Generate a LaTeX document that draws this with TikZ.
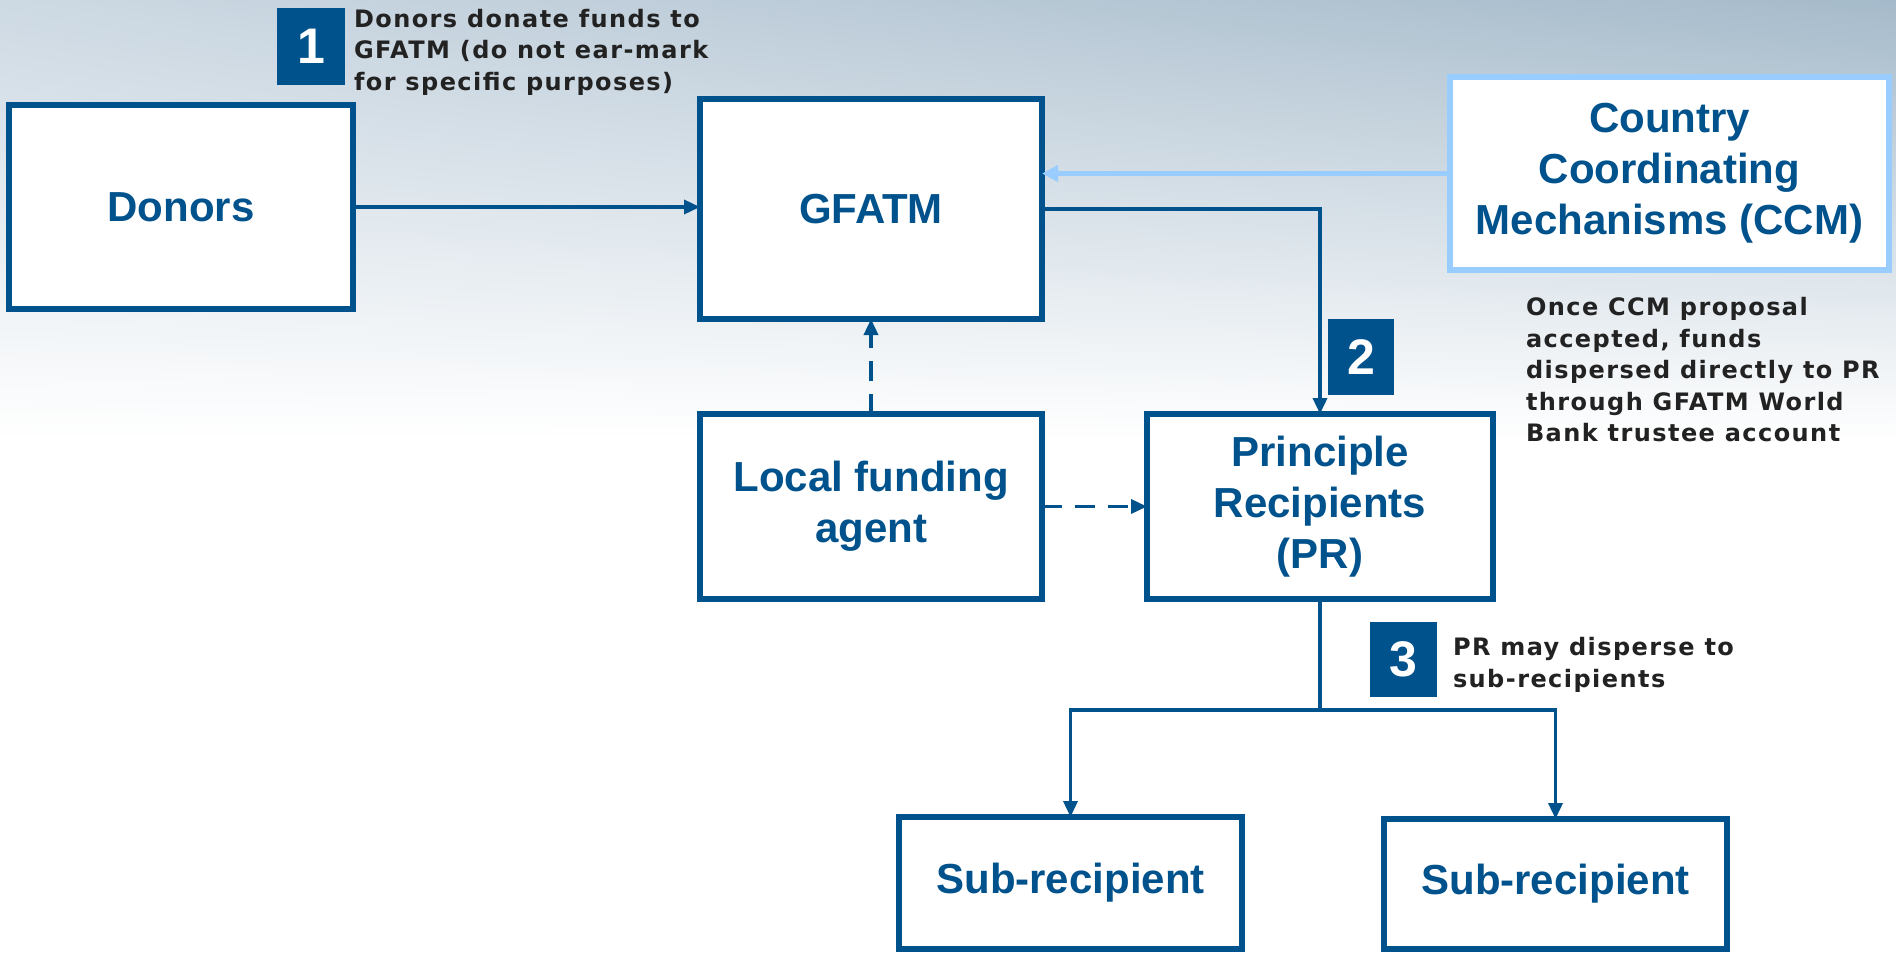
\documentclass[tikz,border=0pt]{standalone}
\usepackage{fontspec}
\setmainfont{Liberation Sans}
\newfontfamily\notefont[LetterSpace=6]{DejaVu Sans}
\usetikzlibrary{arrows.meta,shadings}
\definecolor{dblue}{RGB}{0,82,140}
\definecolor{lblue}{RGB}{153,204,255}
\definecolor{bgul}{RGB}{205,217,227}
\definecolor{bgur}{RGB}{165,186,202}
\definecolor{notegray}{RGB}{34,34,34}
\tikzset{
  box/.style={draw=dblue, line width=6pt, fill=white, inner sep=0pt, outer sep=0pt,
    font=\fontsize{42}{51}\selectfont\bfseries, text=dblue, align=center},
  badge/.style={fill=dblue, inner sep=0pt, outer sep=0pt, text=white,
    font=\fontsize{50}{50}\selectfont\bfseries},
  note/.style={inner sep=0pt, outer sep=0pt, align=left, text=notegray,
    font=\notefont\fontsize{24}{31.5}\selectfont\bfseries},
  flow/.style={draw=dblue, line width=3.5pt, -{Triangle[length=16pt,width=14pt]}},
  dflow/.style={flow, dash pattern=on 20pt off 13pt},
  cflow/.style={draw=lblue, line width=4.5pt, -{Triangle[length=16pt,width=16pt]}}
}
\begin{document}
\begin{tikzpicture}[x=1pt,y=-1pt]
\useasboundingbox (0,0) rectangle (1896,956);
% background
\fill[white] (0,0) rectangle (1896,956);
\shade[upper left=bgul, upper right=bgur, lower left=white, lower right=white] (0,0) rectangle (1896,440);
% boxes
\node[box, minimum width=344pt, minimum height=204pt] (donors) at (181,207) {Donors};
\node[box, minimum width=342pt, minimum height=220pt] (gfatm) at (871,209) {GFATM};
\node[box, draw=lblue, minimum width=439pt, minimum height=193pt] (ccm) at (1669.5,173.5) {Country\\Coordinating\\Mechanisms (CCM)};
\node[box, minimum width=342pt, minimum height=185pt] (lfa) at (871,506.5) {Local funding\\agent};
\node[box, minimum width=346pt, minimum height=185pt] (pr) at (1320,506.5) {Principle\\Recipients\\(PR)};
\node[box, minimum width=343pt, minimum height=132pt] (sub1) at (1070.5,883) {Sub-recipient};
\node[box, minimum width=343pt, minimum height=130pt] (sub2) at (1555.5,884) {Sub-recipient};
% badges
\node[badge, minimum width=68pt, minimum height=77pt] (b1) at (311,46.5) {1};
\node[badge, minimum width=66pt, minimum height=76pt] (b2) at (1361,357) {2};
\node[badge, minimum width=67pt, minimum height=75pt] (b3) at (1403.5,659.5) {3};
% notes
\node[note, anchor=west] (n1) at (354,52) {Donors donate funds to\\GFATM (do not ear-mark\\for specific purposes)};
\node[note, anchor=west] (n2) at (1526,370) {Once CCM proposal\\accepted, funds\\dispersed directly to PR\\through GFATM World\\Bank trustee account};
\node[note, anchor=west] (n3) at (1453,665) {PR may disperse to\\sub-recipients};
% connectors
\draw[flow] (donors.east) -- (donors.east -| gfatm.west);
\draw[cflow] (ccm.west) -- (ccm.west -| gfatm.east);
\draw[flow] (gfatm.east) -| (pr.north);
\draw[dflow] (lfa.north) -- (gfatm.south);
\draw[dflow] (lfa.east) -- (lfa.east -| pr.west);
\coordinate (j) at (1320,710);
\draw[draw=dblue, line width=3.5pt] (pr.south) -- (j);
\draw[flow] (j) -| (sub1.north);
\draw[flow] (j) -| (sub2.north);
\end{tikzpicture}
\end{document}
